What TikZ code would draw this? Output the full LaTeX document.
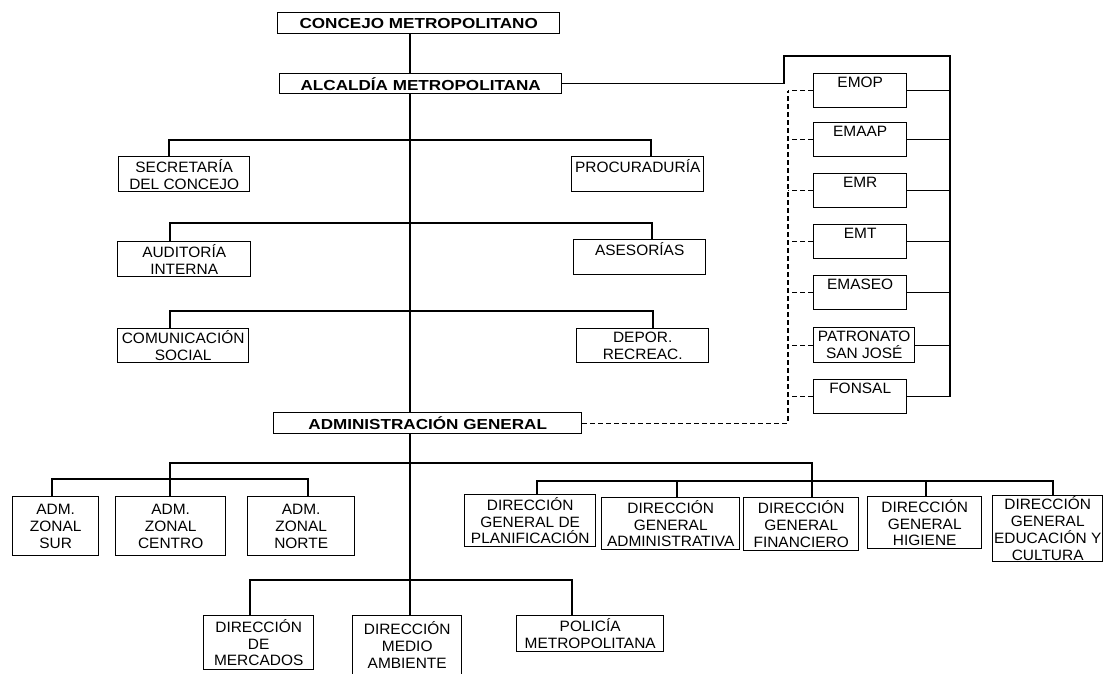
\documentclass[tikz,border=0pt]{standalone}
\usepackage{fontspec}
\setmainfont{Liberation Sans}[FakeStretch=1.03]
\newfontfamily\titlefont[FakeStretch=1.18]{Liberation Sans}
\tikzset{
  box/.style={draw, line width=1.4pt, anchor=north west, inner sep=0.5pt, align=center,
    font=\fontsize{15}{16.8}\selectfont},
  tbox/.style={draw, line width=1.4pt, anchor=north west, inner sep=0pt,
    font=\titlefont\bfseries\fontsize{14.5}{16}\selectfont},
  conn/.style={line width=1.2pt},
  dconn/.style={line width=1.2pt, dash pattern=on 5pt off 3pt},
}
\begin{document}
\begin{tikzpicture}[x=1pt,y=-1pt]
\useasboundingbox (0,0) rectangle (1104,673);
\clip (0,0) rectangle (1104,673);
\fill[white] (0,0) rectangle (1104,673);

% title boxes
\node[tbox, minimum width=282pt, minimum height=21pt] (conc) at (277,12) {CONCEJO METROPOLITANO};
\node[tbox, minimum width=282pt, minimum height=20pt] (alc) at (279,73) {ALCALDÍA METROPOLITANA};
\node[tbox, minimum width=308pt, minimum height=21pt] (adm) at (273,412) {ADMINISTRACIÓN GENERAL};

% staff units
\node[box, minimum width=131pt, minimum height=35pt] (secr) at (118,156) {SECRETARÍA\\DEL CONCEJO};
\node[box, minimum width=132pt, minimum height=35pt] (proc) at (571,156) {PROCURADURÍA\\\mbox{}};
\node[box, minimum width=133pt, minimum height=35pt] (aud) at (117,241) {AUDITORÍA\\INTERNA};
\node[box, minimum width=132pt, minimum height=35pt] (ases) at (573,239) {ASESORÍAS\\\mbox{}};
\node[box, minimum width=131pt, minimum height=34pt] (com) at (117,328) {COMUNICACIÓN\\SOCIAL};
\node[box, minimum width=132pt, minimum height=34pt] (dep) at (576,328) {DEPOR.\\RECREAC.};

% companies
\node[box, minimum width=93pt, minimum height=34pt] (emop) at (813,73) {EMOP\\\mbox{}};
\node[box, minimum width=93pt, minimum height=34pt] (emaap) at (813,122) {EMAAP\\\mbox{}};
\node[box, minimum width=93pt, minimum height=34pt] (emr) at (813,173) {EMR\\\mbox{}};
\node[box, minimum width=93pt, minimum height=34pt] (emt) at (813,224) {EMT\\\mbox{}};
\node[box, minimum width=93pt, minimum height=34pt] (emaseo) at (813,275) {EMASEO\\\mbox{}};
\node[box, minimum width=101pt, minimum height=35pt] (patr) at (813,327) {PATRONATO\\SAN JOSÉ};
\node[box, minimum width=93pt, minimum height=34pt] (fon) at (813,379) {FONSAL\\\mbox{}};

% zonal administrations
\node[box, minimum width=86pt, minimum height=59pt] (sur) at (12,496) {ADM.\\ZONAL\\SUR};
\node[box, minimum width=110pt, minimum height=59pt] (cen) at (115,496) {ADM.\\ZONAL\\CENTRO};
\node[box, minimum width=107pt, minimum height=59pt] (nor) at (247,496) {ADM.\\ZONAL\\NORTE};

% general directions
\node[box, minimum width=131pt, minimum height=52pt] (plan) at (464,494) {DIRECCIÓN\\GENERAL DE\\PLANIFICACIÓN};
\node[box, minimum width=138pt, minimum height=52pt] (admv) at (601,497) {DIRECCIÓN\\GENERAL\\ADMINISTRATIVA};
\node[box, minimum width=115pt, minimum height=53pt] (fin) at (743,497) {DIRECCIÓN\\GENERAL\\FINANCIERO};
\node[box, minimum width=114pt, minimum height=52pt] (hig) at (867,496) {DIRECCIÓN\\GENERAL\\HIGIENE};
\node[box, minimum width=110pt, minimum height=66pt] (edu) at (992,495) {DIRECCIÓN\\GENERAL\\EDUCACIÓN Y\\CULTURA};

% bottom row
\node[box, minimum width=110pt, minimum height=54pt] (merc) at (203,615) {DIRECCIÓN\\DE\\MERCADOS};
\node[box, minimum width=109pt, minimum height=75pt] (amb) at (352,615) {DIRECCIÓN\\MEDIO\\AMBIENTE\\\mbox{}};
\node[box, minimum width=147pt, minimum height=36pt] (pol) at (516,615) {POLICÍA\\METROPOLITANA};

% spine
\coordinate (sp) at (410,0);
\draw[conn] (sp |- conc.south) -- (sp |- alc.north);
\draw[conn] (sp |- alc.south) -- (sp |- adm.north);
\draw[conn] (sp |- adm.south) -- (sp |- amb.north);

% staff branches
\coordinate (l1) at (169,140); \coordinate (r1) at (651,140);
\draw[conn] (secr.north -| l1) -- (l1) -- (r1) -- (proc.north -| r1);
\coordinate (l2) at (170,223); \coordinate (r2) at (652,223);
\draw[conn] (aud.north -| l2) -- (l2) -- (r2) -- (ases.north -| r2);
\coordinate (l3) at (170,311); \coordinate (r3) at (653,311);
\draw[conn] (com.north -| l3) -- (l3) -- (r3) -- (dep.north -| r3);

% companies: solid bus on the right
\coordinate (ca) at (784,56); \coordinate (cb) at (950,56);
\draw[conn] (alc.east) -- (alc.east -| ca) -- (ca) -- (cb) -- (cb |- fon.east);
\foreach \n in {emop,emaap,emr,emt,emaseo,patr,fon}
  \draw[conn] (\n.east) -- (\n.east -| cb);

% companies: dashed link to administration
\coordinate (dl) at (788,0);
\draw[dconn] (adm.east) -- (adm.east -| dl) -- (dl |- emop.west);
\foreach \n in {emop,emaap,emr,emt,emaseo,patr,fon}
  \draw[dconn] (\n.west) -- (\n.west -| dl);

% administration branches
\coordinate (h1) at (170,463); \coordinate (h2) at (812,463);
\draw[conn] (cen.north -| h1) -- (h1) -- (h2) -- (fin.north -| h2);
\coordinate (z1) at (52,479); \coordinate (z2) at (308,479);
\draw[conn] (sur.north -| z1) -- (z1) -- (z2) -- (nor.north -| z2);
\coordinate (d1) at (537,481); \coordinate (d2) at (1053,481);
\coordinate (d3) at (677,481); \coordinate (d4) at (926,481);
\draw[conn] (plan.north -| d1) -- (d1) -- (d2) -- (edu.north -| d2);
\draw[conn] (d3) -- (admv.north -| d3);
\draw[conn] (d4) -- (hig.north -| d4);

% bottom branches
\coordinate (m1) at (250,580); \coordinate (m2) at (572,580);
\draw[conn] (merc.north -| m1) -- (m1) -- (m2) -- (pol.north -| m2);
\end{tikzpicture}
\end{document}
